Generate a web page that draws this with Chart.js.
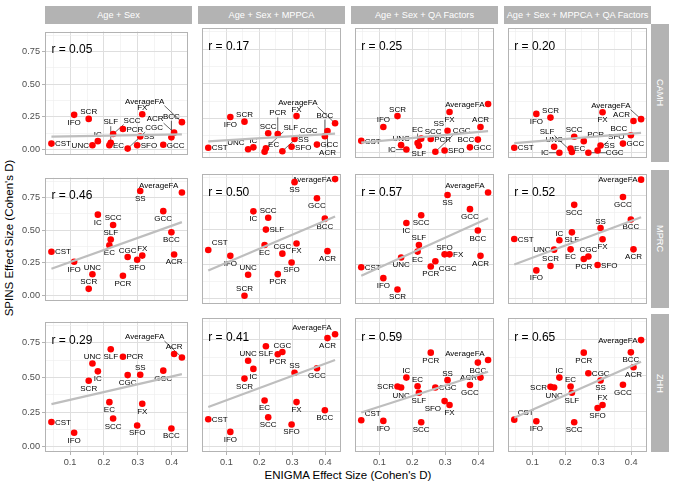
<!DOCTYPE html>
<html>
<head>
<meta charset="utf-8">
<script src="https://cdn.jsdelivr.net/npm/chart.js@4.4.0/dist/chart.umd.min.js"></script>
<style>
  body { margin: 0; background: #fff; }
  #wrap { position: relative; width: 675px; height: 488px; overflow: hidden; font-family: "Liberation Sans", Arial, sans-serif; }
  canvas { position: absolute; }
  .strip { position: absolute; background: #b3b3b3; color: #fff; font-size: 9.2px; display: flex; align-items: center; justify-content: center; white-space: nowrap; }
  .vstrip { writing-mode: vertical-rl; }
  .title { position: absolute; font-size: 11.5px; color: #000; white-space: nowrap; }
</style>
</head>
<body>
<div id="wrap"></div>
<script>
// tracts and ENIGMA effect sizes (x, same in every panel)
const tracts = ["CST", "IFO", "SCR", "UNC", "IC", "EC", "SLF", "SCC", "PCR", "CGC", "SFO", "SS", "FX", "GCC", "BCC", "ACR", "AverageFA"];
const enigmaD = [0.045, 0.112, 0.155, 0.166, 0.182, 0.216, 0.220, 0.227, 0.256, 0.270, 0.298, 0.307, 0.313, 0.375, 0.399, 0.407, 0.430];

const siteNames = ["CAMH", "MPRC", "ZHH"];
const modelNames = ["Age + Sex", "Age + Sex + MPPCA", "Age + Sex + QA Factors", "Age + Sex + MPPCA + QA Factors"];

// SPINS effect sizes, one array per site x model
const camhAgeSex   = [0.046, 0.266, 0.235, 0.033, 0.065, 0.033, 0.053, 0.119, 0.158, 0.008, 0.033, 0.100, 0.271, 0.037, 0.094, 0.130, 0.210];
const camhMppca    = [0.037, 0.260, 0.226, 0.026, 0.040, 0.008, 0.033, 0.142, 0.137, 0.012, 0.044, 0.100, 0.266, 0.060, 0.121, 0.158, 0.214];
const camhQa       = [0.087, 0.187, 0.266, 0.056, 0.024, 0.071, 0.051, 0.103, 0.101, 0.008, 0.017, 0.160, 0.296, 0.040, 0.096, 0.187, 0.353];
const camhMppcaQa  = [0.037, 0.282, 0.255, 0.044, 0.001, 0.031, 0.006, 0.117, 0.085, 0.001, 0.017, 0.053, 0.294, 0.067, 0.128, 0.230, 0.244];

const mprcAgeSex   = [0.336, 0.259, 0.052, 0.163, 0.619, 0.385, 0.429, 0.540, 0.152, 0.295, 0.274, 0.800, 0.306, 0.646, 0.485, 0.315, 0.789];
const mprcMppca    = [0.354, 0.311, 0.023, 0.175, 0.633, 0.390, 0.501, 0.587, 0.179, 0.327, 0.263, 0.844, 0.401, 0.728, 0.580, 0.345, 0.866];
const mprcQa       = [0.229, 0.150, 0.068, 0.299, 0.549, 0.342, 0.390, 0.605, 0.234, 0.272, 0.322, 0.751, 0.322, 0.649, 0.494, 0.311, 0.769];
const mprcMppcaQa  = [0.433, 0.206, 0.238, 0.356, 0.424, 0.358, 0.481, 0.680, 0.288, 0.306, 0.245, 0.512, 0.431, 0.737, 0.574, 0.358, 0.862];

const zhhAgeSex    = [0.179, 0.102, 0.476, 0.601, 0.544, 0.322, 0.703, 0.204, 0.649, 0.517, 0.154, 0.519, 0.311, 0.549, 0.132, 0.669, 0.644];
const zhhMppca     = [0.193, 0.104, 0.478, 0.603, 0.546, 0.324, 0.705, 0.206, 0.649, 0.664, 0.156, 0.519, 0.313, 0.551, 0.256, 0.762, 0.789];
const zhhQa        = [0.186, 0.181, 0.422, 0.415, 0.485, 0.424, 0.379, 0.172, 0.660, 0.415, 0.320, 0.467, 0.293, 0.433, 0.590, 0.485, 0.608];
const zhhMppcaQa   = [0.190, 0.179, 0.420, 0.415, 0.485, 0.422, 0.379, 0.172, 0.660, 0.515, 0.272, 0.465, 0.293, 0.435, 0.662, 0.558, 0.748];

// correlation labels
const camhR = [0.05, 0.17, 0.25, 0.20];
const mprcR = [0.46, 0.50, 0.57, 0.52];
const zhhR  = [0.29, 0.41, 0.59, 0.65];

// fitted line values at the smallest and largest ENIGMA effect
const camhFitStart = [0.100, 0.083, 0.074, 0.071];
const camhFitEnd   = [0.117, 0.139, 0.158, 0.144];
const mprcFitStart = [0.206, 0.206, 0.168, 0.249];
const mprcFitEnd   = [0.562, 0.596, 0.583, 0.590];
const zhhFitStart  = [0.308, 0.279, 0.240, 0.204];
const zhhFitEnd    = [0.524, 0.608, 0.526, 0.596];

// tick values
const xMajor = [0.1, 0.2, 0.3, 0.4];
const xMinor = [0.05, 0.15, 0.25, 0.35];
const yMajor = [0, 0.25, 0.5, 0.75];
const yMinor = [0.125, 0.375, 0.625, 0.875];

const spins = [
  [camhAgeSex, camhMppca, camhQa, camhMppcaQa],
  [mprcAgeSex, mprcMppca, mprcQa, mprcMppcaQa],
  [zhhAgeSex, zhhMppca, zhhQa, zhhMppcaQa]
];
const rVals = [camhR, mprcR, zhhR];
const fitStart = [camhFitStart, mprcFitStart, zhhFitStart];
const fitEnd = [camhFitEnd, mprcFitEnd, zhhFitEnd];

// layout
const FONT = '"Liberation Sans", Arial, sans-serif';
const colLeft = [45, 198, 351, 504];
const colW = 147;
const rowTop = [24, 170, 314];
const rowH = 138;
const Y_AXIS_W = 45;
const X_AXIS_H = 20;

const wrap = document.getElementById("wrap");

function isIn(list, v) {
  return list.some(m => Math.abs(m - v) < 1e-9);
}

function overlap(a, b) {
  const w = Math.min(a.x1, b.x1) - Math.max(a.x0, b.x0);
  const h = Math.min(a.y1, b.y1) - Math.max(a.y0, b.y0);
  return (w > 0 && h > 0) ? w * h : 0;
}

// small greedy label placer, rough stand-in for ggrepel
function placeLabels(ctx, pts, names, area, blocked) {
  const h = 7.5;
  const dirs = [[0, 1], [0, -1], [1, 0], [-1, 0], [-1, 1], [1, 1], [-1, -1], [1, -1]];
  const pointBoxes = pts.map(p => ({ x0: p.x - 3.5, y0: p.y - 3.5, x1: p.x + 3.5, y1: p.y + 3.5 }));
  const placed = [];
  pts.forEach((p, i) => {
    const w = ctx.measureText(names[i]).width;
    let best = null, bestCost = Infinity;
    for (let ring = 0; ring < 3; ring++) {
      dirs.forEach(([dx, dy]) => {
        const gap = 3.5 + ring * 7;
        const cx = p.x + dx * (w / 2 + gap);
        const cy = p.y + dy * (h / 2 + gap);
        const b = { x0: cx - w / 2, y0: cy - h / 2, x1: cx + w / 2, y1: cy + h / 2 };
        let cost = ring * 4;
        if (b.x0 < area.left + 1 || b.x1 > area.right - 1 || b.y0 < area.top + 1 || b.y1 > area.bottom - 1) cost += 1000;
        pointBoxes.forEach(o => cost += overlap(b, o));
        blocked.forEach(o => cost += overlap(b, o) * 2);
        placed.forEach(o => cost += overlap(b, o.box) * 2);
        if (cost < bestCost) { bestCost = cost; best = { box: b, cx, cy, ring, p }; }
      });
    }
    best.name = names[i];
    placed.push(best);
  });
  return placed;
}

function makePanel(row, col) {
  const left = col === 0;
  const bottom = row === 2;
  const cx0 = left ? colLeft[0] - Y_AXIS_W : colLeft[col];
  const cw = colW + (left ? Y_AXIS_W : 0);
  const ch = rowH + (bottom ? X_AXIS_H : 0);

  const canvas = document.createElement("canvas");
  canvas.width = cw;
  canvas.height = ch;
  canvas.style.left = cx0 + "px";
  canvas.style.top = rowTop[row] + "px";
  canvas.style.width = cw + "px";
  canvas.style.height = ch + "px";
  wrap.appendChild(canvas);

  const vals = spins[row][col];
  const points = enigmaD.map((x, i) => ({ x: x, y: vals[i] }));
  const xLo = Math.min(...enigmaD), xHi = Math.max(...enigmaD);
  const fit = [{ x: xLo, y: fitStart[row][col] }, { x: xHi, y: fitEnd[row][col] }];
  const rText = "r = " + rVals[row][col].toFixed(2);

  const decor = {
    id: "decor" + row + col,
    beforeDatasetsDraw(chart) {
      const { ctx, chartArea: a, scales: { x, y } } = chart;
      ctx.save();
      // r annotation
      ctx.font = "12px " + FONT;
      ctx.fillStyle = "#000";
      ctx.textAlign = "left";
      ctx.textBaseline = "middle";
      const rx = x.getPixelForValue(0.045), ry = y.getPixelForValue(0.765);
      const rw = ctx.measureText(rText).width;
      ctx.fillText(rText, rx, ry);
      // point labels
      ctx.font = "8px " + FONT;
      const pts = points.map(p => ({ x: x.getPixelForValue(p.x), y: y.getPixelForValue(p.y) }));
      const labs = placeLabels(ctx, pts, tracts, a, [{ x0: rx - 2, y0: ry - 8, x1: rx + rw + 2, y1: ry + 8 }]);
      ctx.textAlign = "center";
      ctx.textBaseline = "middle";
      labs.forEach(l => {
        if (l.ring > 0) {
          const bx = Math.max(l.box.x0, Math.min(l.p.x, l.box.x1));
          const by = Math.max(l.box.y0 - 1, Math.min(l.p.y, l.box.y1 + 1));
          ctx.strokeStyle = "#000";
          ctx.lineWidth = 0.6;
          ctx.beginPath();
          ctx.moveTo(l.p.x, l.p.y);
          ctx.lineTo(bx, by);
          ctx.stroke();
        }
        ctx.fillStyle = "#000";
        ctx.fillText(l.name, l.cx, l.cy + 0.5);
      });
      ctx.restore();
    },
    afterDraw(chart) {
      const { ctx, chartArea: a } = chart;
      ctx.save();
      ctx.strokeStyle = "#b3b3b3";
      ctx.lineWidth = 1;
      ctx.strokeRect(Math.round(a.left) + 0.5, Math.round(a.top) + 0.5, Math.round(a.right - a.left) - 1, Math.round(a.bottom - a.top) - 1);
      ctx.restore();
    }
  };

  const gridOpts = (major) => ({
    color: c => isIn(major, c.tick.value) ? "#dedede" : "#ededed",
    lineWidth: c => isIn(major, c.tick.value) ? 1 : 0.6,
    tickLength: 3,
    tickColor: c => isIn(major, c.tick.value) ? "#b3b3b3" : "rgba(0,0,0,0)"
  });

  new Chart(canvas, {
    type: "scatter",
    data: {
      datasets: [
        {
          type: "line",
          data: fit,
          borderColor: "#bebebe",
          borderWidth: 2.2,
          pointRadius: 0,
          order: 1
        },
        {
          data: points,
          backgroundColor: "#f00",
          borderWidth: 0,
          pointRadius: 3.3,
          order: 2
        }
      ]
    },
    options: {
      responsive: false,
      animation: false,
      devicePixelRatio: 1,
      layout: { padding: 0 },
      plugins: { legend: { display: false }, tooltip: { enabled: false } },
      scales: {
        x: {
          type: "linear",
          min: 0.026,
          max: 0.448,
          afterBuildTicks: s => { s.ticks = xMinor.concat(xMajor).sort((a, b) => a - b).map(v => ({ value: v })); },
          afterFit: s => { s.height = bottom ? X_AXIS_H : 0; },
          grid: Object.assign(gridOpts(xMajor), { drawTicks: bottom }),
          border: { display: false },
          ticks: {
            display: bottom,
            autoSkip: false,
            maxRotation: 0,
            padding: 2,
            color: "#4d4d4d",
            font: { size: 9.2, family: FONT },
            callback: v => isIn(xMajor, v) ? v.toFixed(1) : ""
          }
        },
        y: {
          type: "linear",
          min: -0.037,
          max: 0.903,
          afterBuildTicks: s => { s.ticks = yMajor.concat(yMinor).sort((a, b) => a - b).map(v => ({ value: v })); },
          afterFit: s => { s.width = left ? Y_AXIS_W : 0; },
          grid: Object.assign(gridOpts(yMajor), { drawTicks: left }),
          border: { display: false },
          ticks: {
            display: left,
            autoSkip: false,
            padding: 2,
            color: "#4d4d4d",
            font: { size: 9.2, family: FONT },
            callback: v => isIn(yMajor, v) ? v.toFixed(2) : ""
          }
        }
      }
    },
    plugins: [decor]
  });
}

// facet strips
modelNames.forEach((m, c) => {
  const d = document.createElement("div");
  d.className = "strip";
  d.style.left = colLeft[c] + "px";
  d.style.top = "6px";
  d.style.width = colW + "px";
  d.style.height = "18px";
  d.textContent = m;
  wrap.appendChild(d);
});
siteNames.forEach((s, r) => {
  const d = document.createElement("div");
  d.className = "strip vstrip";
  d.style.left = (colLeft[3] + colW) + "px";
  d.style.top = rowTop[r] + "px";
  d.style.width = "18px";
  d.style.height = rowH + "px";
  d.textContent = s;
  wrap.appendChild(d);
});

// axis titles
const xt = document.createElement("div");
xt.className = "title";
xt.textContent = "ENIGMA Effect Size (Cohen's D)";
xt.style.left = "348px";
xt.style.top = "475px";
xt.style.transform = "translate(-50%, -50%)";
wrap.appendChild(xt);

const yt = document.createElement("div");
yt.className = "title";
yt.textContent = "SPINS Effect Size (Cohen's D)";
yt.style.left = "9px";
yt.style.top = "238px";
yt.style.transform = "translate(-50%, -50%) rotate(-90deg)";
wrap.appendChild(yt);

for (let r = 0; r < 3; r++) {
  for (let c = 0; c < 4; c++) makePanel(r, c);
}
</script>
</body>
</html>
